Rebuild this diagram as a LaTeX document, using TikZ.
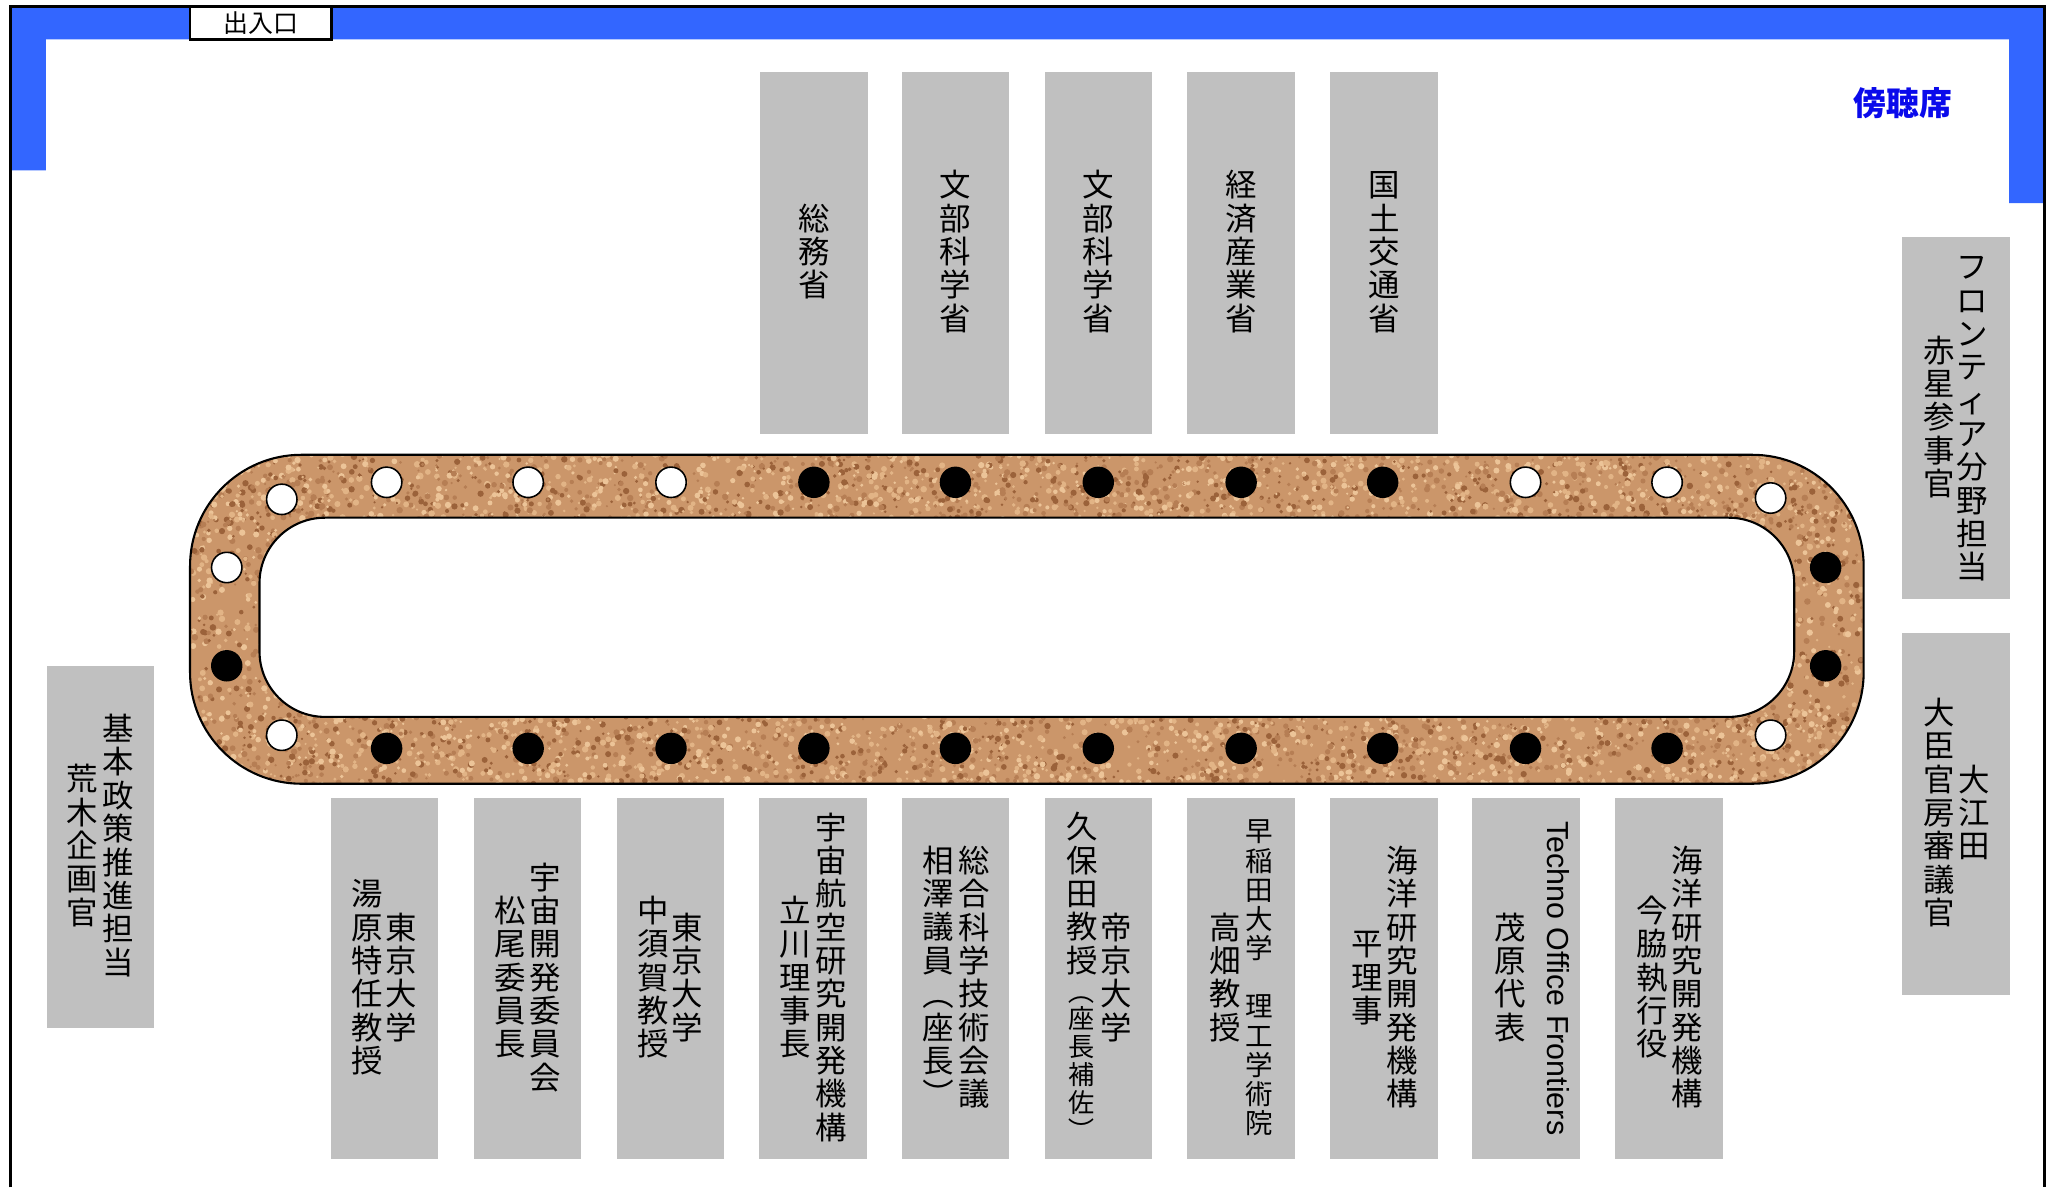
\documentclass[tikz,border=0pt]{standalone}
\usepackage{fontspec}
\setmainfont{Noto Sans CJK JP}
\newfontfamily\jpv{Noto Sans CJK JP}
\newfontfamily\lat{Liberation Sans}
\definecolor{band}{RGB}{51,102,255}
\definecolor{boxgray}{RGB}{192,192,192}
\definecolor{cork}{RGB}{203,150,106}
\definecolor{corkdark}{RGB}{155,98,58}
\definecolor{corkmid}{RGB}{182,126,84}
\definecolor{corklight}{RGB}{226,180,134}
\definecolor{corkpale}{RGB}{236,196,152}
\definecolor{titleblue}{RGB}{10,10,235}
\newlength\vcw
\setlength\vcw{12pt}
\newcommand\vch[1]{\hbox to \vcw{\hss\vrule height .87em depth .19em width 0pt\relax#1\hss}}
\newcommand\vop{{\rotatebox[origin=c]{-90}{（}}}
\newcommand\vcl{{\rotatebox[origin=c]{-90}{）}}}
\ExplSyntaxOn
\NewDocumentCommand\vt{m}{\vbox{\offinterlineskip\tl_map_function:nN{#1}\vch}}
\ExplSyntaxOff
\newcommand\corkspot[2]{%
  \pgfmathsetmacro\rr{0.9+1.6*rnd}%
  \pgfmathtruncatemacro\cc{4*rnd}%
  \ifcase\cc\relax \def\spc{corkdark}\or\def\spc{corkmid}\or\def\spc{corklight}\else\def\spc{corkpale}\fi
  \fill[\spc] (#1,#2) circle[radius=\rr];}
\tikzset{
  seatbox/.style={fill=boxgray, inner sep=0pt, minimum width=41pt, minimum height=138pt},
  vcol/.style={inner sep=0pt, font=\jpv\fontsize{12}{14}\selectfont},
  vsmall/.style={inner sep=0pt, font=\jpv\fontsize{10.5}{12}\selectfont},
  dotb/.style={circle, fill=black, inner sep=0pt, minimum size=12pt},
  dotw/.style={circle, fill=white, draw=black, line width=0.6pt, inner sep=0pt, minimum size=11.6pt}
}
\begin{document}
\begin{tikzpicture}[x=0.5pt,y=-0.5pt]
\useasboundingbox (0,0) rectangle (1568,906);
% wall band
\fill[band] (9,6) -- (1559,6) -- (1559,155) -- (1533,155) -- (1533,30) -- (35,30) -- (35,130) -- (9,130) -- cycle;
\draw[line width=1.2pt] (8,906) -- (8,5) -- (1560,5) -- (1560,906);
% entrance
\node[draw, line width=1pt, fill=white, inner sep=0pt, minimum width=54pt, minimum height=12.5pt, font=\fontsize{9.5}{11}\selectfont] (door) at (199,17.5) {出入口};
% gallery label
\node[inner sep=0pt, text=titleblue, font=\bfseries\fontsize{12.5}{15}\selectfont] (gallery) at (1452,79) {傍聴席};
% cork ring
\begin{scope}
  \clip[rounded corners=42.5pt] (145,347) rectangle (1422,598);
  \fill[cork] (145,347) rectangle (1422,598);
  \pgfmathsetseed{12}
  \foreach \i in {1,...,2300}{
    \pgfmathsetmacro\xx{145+1277*rnd}
    \pgfmathsetmacro\yy{346+52*rnd}
    \corkspot{\xx}{\yy}
  }
  \foreach \i in {1,...,2300}{
    \pgfmathsetmacro\xx{145+1277*rnd}
    \pgfmathsetmacro\yy{544+55*rnd}
    \corkspot{\xx}{\yy}
  }
  \foreach \i in {1,...,800}{
    \pgfmathsetmacro\xx{rnd<0.5 ? 145+105*rnd : 1317+105*rnd}
    \pgfmathsetmacro\yy{390+165*rnd}
    \corkspot{\xx}{\yy}
  }
\end{scope}
\draw[line width=0.8pt, rounded corners=42.5pt] (145,347) rectangle (1422,598);
\filldraw[fill=white, line width=0.8pt, rounded corners=25pt] (198,395) rectangle (1369,547);
% seats on the table
\node[dotw] (t1) at (295,368) {};
\node[dotw] (t2) at (403,368) {};
\node[dotw] (t3) at (512,368) {};
\node[dotb] (t4) at (621,368) {};
\node[dotb] (t5) at (729,368) {};
\node[dotb] (t6) at (838,368) {};
\node[dotb] (t7) at (947,368) {};
\node[dotb] (t8) at (1055,368) {};
\node[dotw] (t9) at (1164,368) {};
\node[dotw] (t10) at (1272,368) {};
\node[dotb] (u1) at (295,571) {};
\node[dotb] (u2) at (403,571) {};
\node[dotb] (u3) at (512,571) {};
\node[dotb] (u4) at (621,571) {};
\node[dotb] (u5) at (729,571) {};
\node[dotb] (u6) at (838,571) {};
\node[dotb] (u7) at (947,571) {};
\node[dotb] (u8) at (1055,571) {};
\node[dotb] (u9) at (1164,571) {};
\node[dotb] (u10) at (1272,571) {};
\node[dotw] (c1) at (215,381) {};
\node[dotw] (c2) at (1351,380) {};
\node[dotw] (c3) at (215,561) {};
\node[dotw] (c4) at (1351,561) {};
\node[dotw] (l1) at (173,433) {};
\node[dotb] (l2) at (173,508) {};
\node[dotb] (r1) at (1393,433) {};
\node[dotb] (r2) at (1393,508) {};
% top boxes
\node[seatbox] (m1) at (621,193) {};
\node[seatbox] (m2) at (729,193) {};
\node[seatbox] (m3) at (838,193) {};
\node[seatbox] (m4) at (947,193) {};
\node[seatbox] (m5) at (1056,193) {};
\node[vcol] (m1t) at (m1.center) {\vt{総務省}};
\node[vcol] (m2t) at (m2.center) {\vt{文部科学省}};
\node[vcol] (m3t) at (m3.center) {\vt{文部科学省}};
\node[vcol] (m4t) at (m4.center) {\vt{経済産業省}};
\node[vcol] (m5t) at (m5.center) {\vt{国土交通省}};
% left box
\node[seatbox] (lb) at (76.5,646) {};
\node[vcol] (lba) at (90,646) {\vt{基本政策推進担当}};
\node[vcol] (lbb) at (63,646) {\vt{荒木企画官}};
% right boxes
\node[seatbox] (rb1) at (1492.5,319) {};
\node[vcol] (rb1a) at (1505,319) {\vt{フロンティア分野担当}};
\node[vcol] (rb1b) at (1480,319) {\vt{赤星参事官}};
\node[seatbox] (rb2) at (1492.5,621) {};
\node[vcol] (rb2a) at (1506,621) {\vt{大江田}};
\node[vcol] (rb2b) at (1480,621) {\vt{大臣官房審議官}};
% bottom boxes
\node[seatbox] (b1) at (293.5,746.5) {};
\node[seatbox] (b2) at (402.5,746.5) {};
\node[seatbox] (b3) at (511.5,746.5) {};
\node[seatbox] (b4) at (620.5,746.5) {};
\node[seatbox] (b5) at (729,746.5) {};
\node[seatbox] (b6) at (838,746.5) {};
\node[seatbox] (b7) at (947,746.5) {};
\node[seatbox] (b8) at (1056,746.5) {};
\node[seatbox] (b9) at (1164.5,746.5) {};
\node[seatbox] (b10) at (1273.5,746.5) {};
\node[vcol] (b1a) at (306.5,746.5) {\vt{東京大学}};
\node[vcol] (b1b) at (280.5,746.5) {\vt{湯原特任教授}};
\node[vcol] (b2a) at (416,746.5) {\vt{宇宙開発委員会}};
\node[vcol] (b2b) at (389,746.5) {\vt{松尾委員長}};
\node[vcol] (b3a) at (524.5,746.5) {\vt{東京大学}};
\node[vcol] (b3b) at (498.5,746.5) {\vt{中須賀教授}};
\node[vcol] (b4a) at (634,746.5) {\vt{宇宙航空研究開発機構}};
\node[vcol] (b4b) at (607,746.5) {\vt{立川理事長}};
\node[vcol] (b5a) at (743,746.5) {\vt{総合科学技術会議}};
\node[vcol] (b5b) at (716,746.5) {\vt{相澤議員\vop 座長\vcl}};
\node[vcol] (b6a) at (851.5,746.5) {\vt{帝京大学}};
\node[vcol] (b6b) at (825.5,746.5) {\vbox{\offinterlineskip\vt{久保田教授}\fontsize{10}{12}\selectfont\vt{\vop 座長補佐\vcl}}};
\node[vsmall] (b7a) at (961,746.5) {\vt{早稲田大学　理工学術院}};
\node[vcol] (b7b) at (934.5,746.5) {\vt{高畑教授}};
\node[vcol] (b8a) at (1070,746.5) {\vt{海洋研究開発機構}};
\node[vcol] (b8b) at (1043.5,746.5) {\vt{平理事}};
\node[inner sep=0pt, rotate=-90, font=\lat\fontsize{11.6}{13}\selectfont] (b9a) at (1189,746.5) {Techno Office Frontiers};
\node[vcol] (b9b) at (1152,746.5) {\vt{茂原代表}};
\node[vcol] (b10a) at (1287,746.5) {\vt{海洋研究開発機構}};
\node[vcol] (b10b) at (1261,746.5) {\vt{今脇執行役}};
\end{tikzpicture}
\end{document}
